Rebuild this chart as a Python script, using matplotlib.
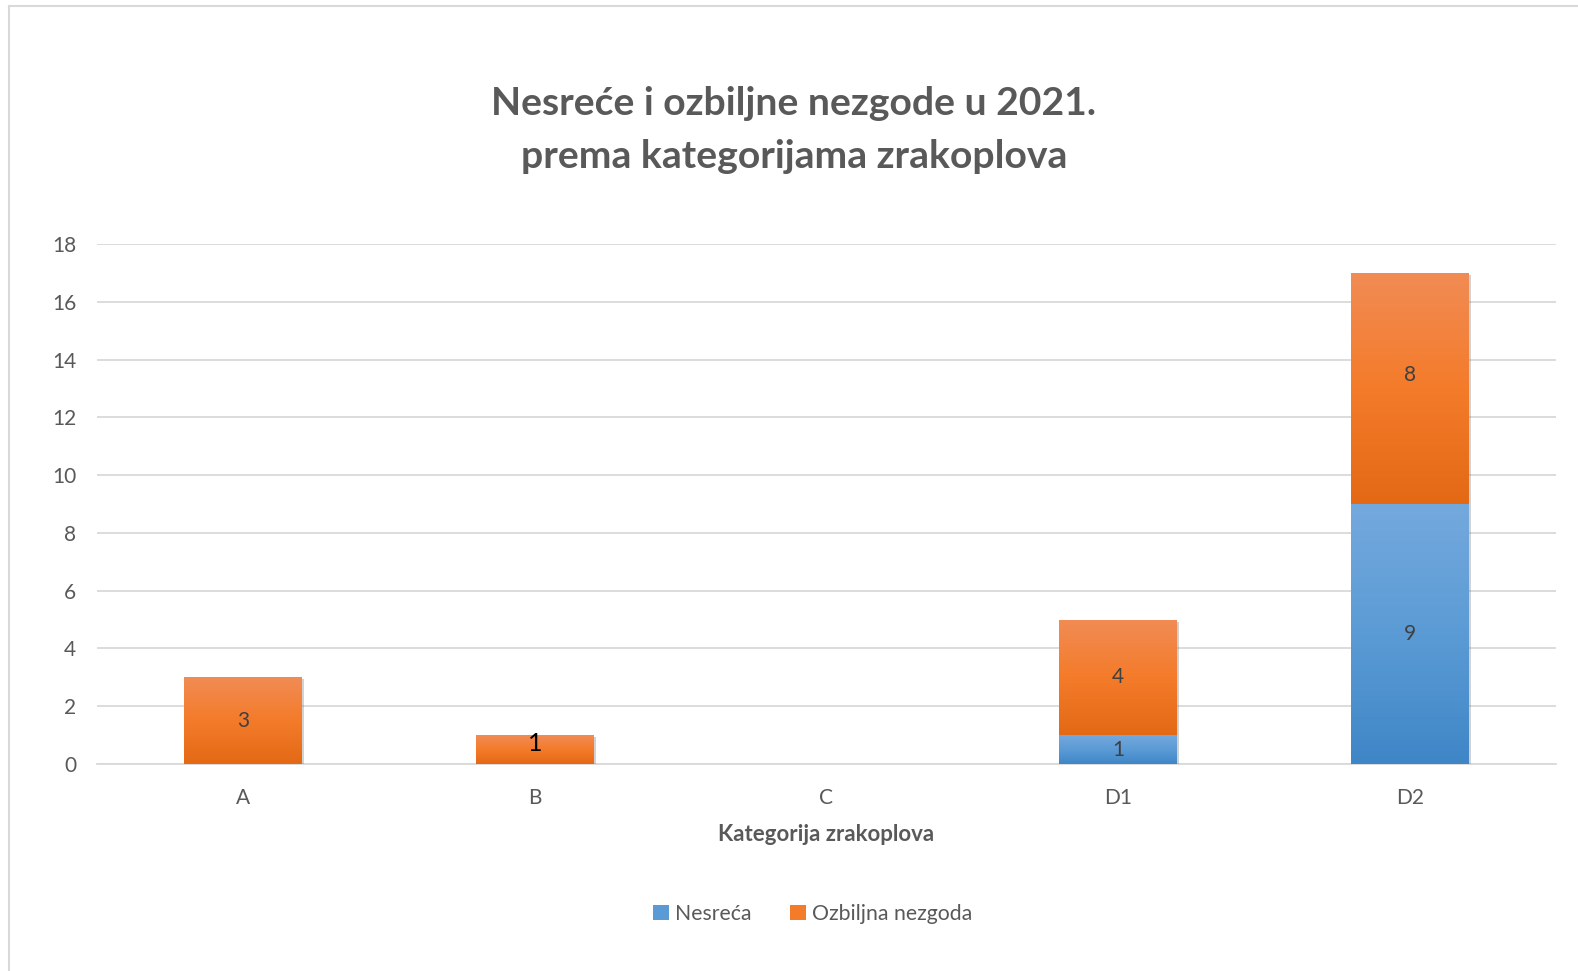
import numpy as np
import matplotlib
matplotlib.use('Agg')
import matplotlib.pyplot as plt
from matplotlib.lines import Line2D
from matplotlib.patches import Patch
import matplotlib.patheffects as pe

plt.rcParams['font.family'] = ['Lato', 'DejaVu Sans']

categories = ['A', 'B', 'C', 'D1', 'D2']
nesreca = [0, 0, 0, 1, 9]
ozbiljna = [3, 1, 0, 4, 8]
yticks = [0, 2, 4, 6, 8, 10, 12, 14, 16, 18]

title = 'Nesreće i ozbiljne nezgode u 2021.\nprema kategorijama zrakoplova'
xlabel = 'Kategorija zrakoplova'
series_names = ['Nesreća', 'Ozbiljna nezgoda']

# gradient stops, top -> bottom
blue_grad = ['#74a9dd', '#5b9bd5', '#3f86c7']
orange_grad = ['#f18c55', '#f47b2a', '#e36915']

text_col = '#595959'
grid_col = '#d9d9d9'


def make_cmap(stops):
    return matplotlib.colors.LinearSegmentedColormap.from_list('g', stops[::-1])


def fill_gradient(ax, bars, stops):
    cmap = make_cmap(stops)
    grad = np.linspace(0, 1, 256).reshape(-1, 1)
    for b in bars:
        if b.get_height() <= 0:
            continue
        x0, y0 = b.get_x(), b.get_y()
        im = ax.imshow(grad, cmap=cmap, origin='lower', aspect='auto',
                       extent=[x0, x0 + b.get_width(), y0, y0 + b.get_height()],
                       zorder=b.get_zorder() + 0.1)
        im.set_clip_path(b)


fig = plt.figure(figsize=(15.78, 9.71), dpi=100)
ax = fig.add_axes([0.0615, 0.2132, 0.9245, 0.5355])

x = np.arange(len(categories))
w = 0.404
shadow = [pe.SimplePatchShadow(offset=(1.5, -1.5), shadow_rgbFace='#808080', alpha=0.35), pe.Normal()]

b1 = ax.bar(x, nesreca, w, color=blue_grad[1], zorder=3, linewidth=0)
b2 = ax.bar(x, ozbiljna, w, bottom=nesreca, color=orange_grad[1], zorder=3, linewidth=0)
for b in list(b1) + list(b2):
    b.set_path_effects(shadow)
fill_gradient(ax, b1, blue_grad)
fill_gradient(ax, b2, orange_grad)

# small label nudges seen in the original
nudge = {'B': 0.2, 'D2': 0.45}

for i, cat in enumerate(categories):
    if nesreca[i] > 0:
        ax.text(x[i], nesreca[i] / 2, str(nesreca[i]), ha='center', va='center',
                fontsize=15, color='#404040', zorder=5)
    if ozbiljna[i] > 0:
        yy = nesreca[i] + ozbiljna[i] / 2 + nudge.get(cat, 0)
        if cat == 'B':
            ax.text(x[i], yy, str(ozbiljna[i]), ha='center', va='center',
                    fontsize=18, color='black', zorder=5)
        else:
            ax.text(x[i], yy, str(ozbiljna[i]), ha='center', va='center',
                    fontsize=15, color='#404040', zorder=5)

ax.set_xlim(-0.5, len(categories) - 0.5)
ax.set_ylim(0, 18)
ax.set_yticks(yticks)
ax.set_xticks(x)
ax.set_xticklabels(categories)
ax.tick_params(axis='both', length=0, labelsize=15, labelcolor=text_col)
ax.tick_params(axis='y', pad=15)
ax.tick_params(axis='x', pad=17)
ax.yaxis.grid(True, color=grid_col, linewidth=1.3, zorder=0)
ax.set_axisbelow(True)
for s in ['top', 'right', 'left']:
    ax.spines[s].set_visible(False)
ax.spines['bottom'].set_color(grid_col)
ax.spines['bottom'].set_linewidth(1.3)
ax.set_xlabel(xlabel, fontsize=16, fontweight='bold', color=text_col, labelpad=12)

fig.text(0.503, 0.866, title, ha='center', va='center', fontsize=28.2,
         fontweight='bold', color=text_col, linespacing=1.6)

handles = [Patch(facecolor=blue_grad[1]), Patch(facecolor=orange_grad[1])]
fig.legend(handles, series_names, loc='center', bbox_to_anchor=(0.515, 0.059), ncol=2,
           frameon=False, fontsize=15.3, labelcolor=text_col, handlelength=0.75,
           handleheight=0.75, handletextpad=0.3, columnspacing=1.8)

# chart frame (left and top edges visible)
fig.add_artist(Line2D([8.5 / 1578, 8.5 / 1578], [0, 1 - 6 / 971], color='#d9d9d9', lw=1.5))
fig.add_artist(Line2D([8.5 / 1578, 1], [1 - 6 / 971, 1 - 6 / 971], color='#d9d9d9', lw=1.5))

fig.savefig('out.png', dpi=100, facecolor='white')
